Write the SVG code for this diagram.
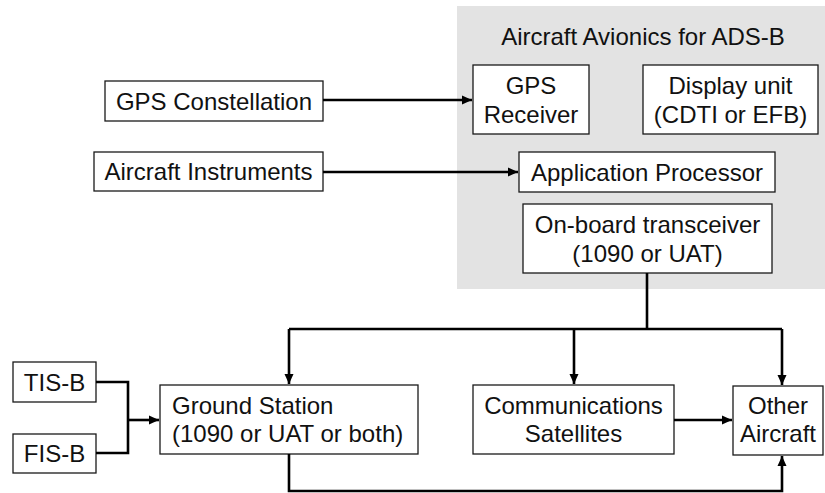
<svg xmlns="http://www.w3.org/2000/svg" width="825" height="493" viewBox="0 0 825 493">
<style>
.box{fill:#fff;stroke:#1a1a1a;stroke-width:1.3}
.t{font-family:"Liberation Sans",Arial,sans-serif;font-size:24px;fill:#111}
.c{text-anchor:middle}
.ln{fill:none;stroke:#000;stroke-width:2.6}
</style>
<defs>
<marker id="ah" markerUnits="userSpaceOnUse" markerWidth="11" markerHeight="10" refX="10" refY="5" orient="auto">
<path d="M0,0.5 L10,5 L0,9.5 z" fill="#000"/>
</marker>
</defs>
<rect id="avionics-panel" x="457" y="6" width="368" height="283" fill="#e3e3e3"/>
<text class="t c" x="643" y="45">Aircraft Avionics for ADS-B</text>
<g id="gps-receiver"><rect class="box" x="473" y="65" width="116" height="69"/><text class="t c" x="531" y="94">GPS</text><text class="t c" x="531" y="123">Receiver</text></g>
<g id="display-unit"><rect class="box" x="643" y="65" width="175" height="69"/><text class="t c" x="730.5" y="94">Display unit</text><text class="t c" x="730.5" y="123">(CDTI or EFB)</text></g>
<g id="app-processor"><rect class="box" x="519" y="152" width="256" height="40"/><text class="t c" x="647" y="181">Application Processor</text></g>
<g id="transceiver"><rect class="box" x="523" y="204" width="249" height="69"/><text class="t c" x="647.5" y="233">On-board transceiver</text><text class="t c" x="647.5" y="262">(1090 or UAT)</text></g>
<g id="gps-constellation"><rect class="box" x="105" y="81" width="218" height="40"/><text class="t c" x="214" y="110">GPS Constellation</text></g>
<g id="aircraft-instruments"><rect class="box" x="94" y="152" width="229" height="39"/><text class="t c" x="208.5" y="180">Aircraft Instruments</text></g>
<g id="tis-b"><rect class="box" x="13" y="362" width="83" height="40"/><text class="t c" x="54.5" y="391">TIS-B</text></g>
<g id="fis-b"><rect class="box" x="13" y="434" width="83" height="39"/><text class="t c" x="54.5" y="462">FIS-B</text></g>
<g id="ground-station"><rect class="box" x="160" y="385" width="258" height="69"/><text class="t" x="172" y="414">Ground Station</text><text class="t" x="172" y="442">(1090 or UAT or both)</text></g>
<g id="comm-satellites"><rect class="box" x="473" y="385" width="201" height="69"/><text class="t c" x="573.5" y="414">Communications</text><text class="t c" x="573.5" y="442">Satellites</text></g>
<g id="other-aircraft"><rect class="box" x="733" y="386" width="90" height="69"/><text class="t c" x="778" y="414">Other</text><text class="t c" x="778" y="442">Aircraft</text></g>
<g id="connectors">
<path class="ln" d="M323,100 H472" marker-end="url(#ah)"/>
<path class="ln" d="M323,172 H518" marker-end="url(#ah)"/>
<path class="ln" d="M647,273 V329"/>
<path class="ln" d="M289,329 H782"/>
<path class="ln" d="M289,329 V384" marker-end="url(#ah)"/>
<path class="ln" d="M574,329 V384" marker-end="url(#ah)"/>
<path class="ln" d="M782,329 V385" marker-end="url(#ah)"/>
<path class="ln" d="M96,382 H128 V453 H96"/>
<path class="ln" d="M128,420 H159" marker-end="url(#ah)"/>
<path class="ln" d="M674,420 H732" marker-end="url(#ah)"/>
<path class="ln" d="M289,454 V491 H782 V456" marker-end="url(#ah)"/>
</g>
</svg>
